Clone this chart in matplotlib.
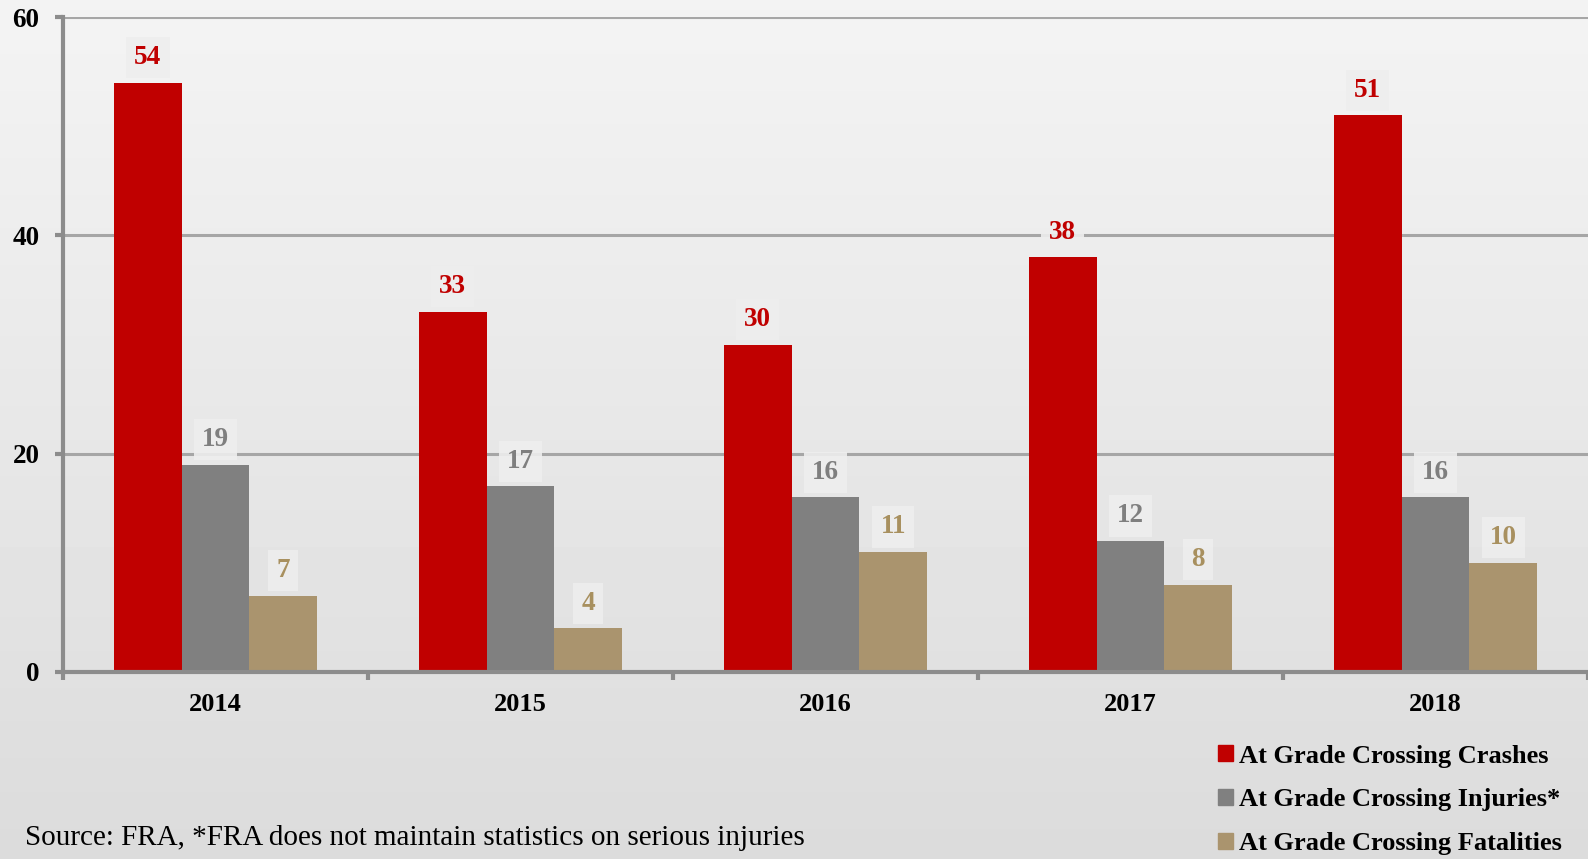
import numpy as np
import matplotlib.pyplot as plt
from matplotlib.patches import Patch

# ---- data ----
years = ["2014", "2015", "2016", "2017", "2018"]
crashes = [54, 33, 30, 38, 51]
injuries = [19, 17, 16, 12, 16]
fatalities = [7, 4, 11, 8, 10]
series_names = ["At Grade Crossing Crashes", "At Grade Crossing Injuries*",
                "At Grade Crossing Fatalities"]
source_note = "Source: FRA, *FRA does not maintain statistics on serious injuries"

bar_colors = ["#C00000", "#808080", "#AA946E"]
label_colors = ["#C00000", "#7F7F7F", "#A8905F"]

plt.rcParams['font.family'] = ['Liberation Serif', 'DejaVu Serif']

fig = plt.figure(figsize=(15.88, 8.59), dpi=100)

# background gradient (lighter top, darker bottom)
bg = fig.add_axes([0, 0, 1, 1], zorder=-10)
grad = np.linspace(0.955, 0.86, 256).reshape(-1, 1)
bg.imshow(grad, aspect='auto', cmap='gray', vmin=0, vmax=1, extent=[0, 1, 0, 1])
bg.axis('off')

ax = fig.add_axes([0.0397, 0.2177, 0.9603, 0.7625])
ax.patch.set_alpha(0)

x = np.arange(len(years))
w = 0.222
all_series = [crashes, injuries, fatalities]
for i, vals in enumerate(all_series):
    bars = ax.bar(x + (i - 1) * w, vals, width=w, color=bar_colors[i],
                  zorder=3, label=series_names[i])
    for b, v in zip(bars, vals):
        ax.annotate(str(v), (b.get_x() + b.get_width() / 2, v),
                    xytext=(0, 9), textcoords='offset points',
                    ha='center', va='bottom', fontsize=19.5, fontweight='bold',
                    color=label_colors[i], zorder=4,
                    bbox=dict(boxstyle='square,pad=0.3', fc='#EEEEEE',
                              ec='none', alpha=0.9))

ax.set_ylim(0, 60)
ax.set_xlim(-0.5, len(years) - 0.5)
ax.set_yticks([0, 20, 40, 60])
ax.yaxis.grid(True, color='#A6A6A6', linewidth=2.2, zorder=0)

# category ticks at group boundaries, labels at centres
ax.set_xticks(np.arange(-0.5, len(years)), minor=False)
ax.set_xticklabels([])
ax.set_xticks(x, minor=True)
ax.set_xticklabels(years, minor=True, fontsize=19, fontweight='bold')
ax.tick_params(axis='x', which='major', length=6, width=3, color='#8C8C8C',
               direction='out')
ax.tick_params(axis='x', which='minor', length=0, pad=15)
ax.tick_params(axis='y', length=6, width=3, color='#8C8C8C', pad=11,
               labelsize=19.5)
for lbl in ax.get_yticklabels():
    lbl.set_fontweight('bold')

for side in ['top', 'right']:
    ax.spines[side].set_visible(False)
for side in ['left', 'bottom']:
    ax.spines[side].set_color('#8C8C8C')
    ax.spines[side].set_linewidth(3)
    ax.spines[side].set_zorder(5)

handles = [Patch(color=c) for c in bar_colors]
fig.legend(handles, series_names, loc='upper left',
           bbox_to_anchor=(0.767, 0.133), frameon=False,
           prop=dict(size=19, weight='bold'), handlelength=0.55,
           handleheight=0.55, handletextpad=0.25, labelspacing=0.78,
           borderpad=0, borderaxespad=0)

fig.text(0.016, 0.0244, source_note, fontsize=21, va='center', ha='left')

fig.savefig('out.png', dpi=100)
